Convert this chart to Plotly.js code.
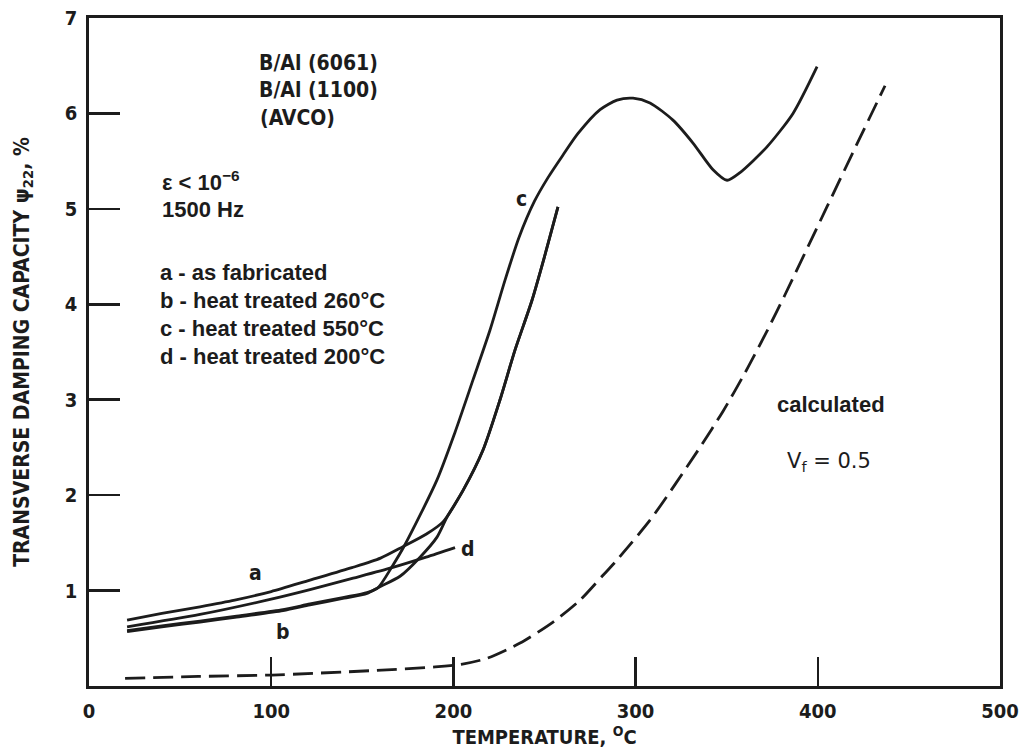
<!DOCTYPE html>
<html>
<head>
<meta charset="utf-8">
<script src="https://cdn.plot.ly/plotly-3.0.1.min.js"></script>
<style>html,body{margin:0;padding:0;background:#fff;}#chart{width:1034px;height:752px;}</style>
</head>
<body>
<div id="chart"></div>
<script>
// Curve a - as fabricated
const aTemp = [20.9, 40, 60.9, 80, 100, 121.3, 144.3, 160, 172.3, 185, 194.3, 205.3, 216.2, 225.6, 233.8, 243.1, 250.3, 257.4];
const aDamp = [0.69, 0.76, 0.83, 0.90, 0.99, 1.11, 1.24, 1.34, 1.46, 1.59, 1.72, 2.05, 2.47, 3.00, 3.52, 4.04, 4.52, 5.02];
// Curve b - heat treated 260°C
const bTemp = [20.9, 40, 60.9, 80, 106.5, 121.3, 140, 152.6, 158.6, 170.7, 181.7, 191, 196.5, 205.3, 216.2, 225.6, 233.8, 243.1, 250.3, 257.4];
const bDamp = [0.57, 0.62, 0.67, 0.72, 0.79, 0.85, 0.92, 0.97, 1.03, 1.15, 1.35, 1.56, 1.77, 2.05, 2.47, 3.00, 3.52, 4.04, 4.52, 5.02];
// Curve c - heat treated 550°C
const cTemp = [20.9, 40, 60.9, 80, 106.5, 121.3, 140, 152.6, 158.6, 166.3, 173.4, 191, 200.9, 210.8, 220.1, 228.3, 236, 244.5, 252, 260, 268.4, 280.5, 289.8, 298.6, 307.9, 320.5, 331.5, 342.5, 350.2, 357.3, 372.1, 386.4, 399.6];
const cDamp = [0.58, 0.63, 0.68, 0.73, 0.80, 0.86, 0.93, 0.98, 1.03, 1.25, 1.48, 2.16, 2.66, 3.21, 3.73, 4.25, 4.70, 5.08, 5.33, 5.56, 5.79, 6.04, 6.14, 6.16, 6.11, 5.93, 5.69, 5.41, 5.30, 5.38, 5.65, 6.00, 6.49];
// Curve d - heat treated 200°C
const dTemp = [20.9, 60.9, 100, 121.3, 145, 166.3, 185, 200.9];
const dDamp = [0.62, 0.75, 0.91, 1.01, 1.13, 1.24, 1.35, 1.45];
// Calculated, Vf = 0.5
const calcTemp = [19.8, 60, 100.4, 154, 190, 205, 218.4, 236.6, 254.7, 269.5, 282.1, 289.8, 308, 321.6, 335.3, 348, 360, 371.6, 382, 405, 421, 436.9];
const calcDamp = [0.08, 0.10, 0.115, 0.16, 0.20, 0.23, 0.29, 0.45, 0.67, 0.90, 1.16, 1.32, 1.74, 2.11, 2.50, 2.88, 3.28, 3.70, 4.10, 5.02, 5.66, 6.29];

const xTicks = [0, 100, 200, 300, 400, 500];
const yTicks = [1, 2, 3, 4, 5, 6, 7];

const INK = '#1c1c1c';
const NARROW = '"DejaVu Sans Condensed", "Liberation Sans Narrow", sans-serif';
const SANS = '"Liberation Sans", Arial, Helvetica, sans-serif';

function solid(x, y, name) {
  return {x: x, y: y, name: name, type: 'scatter', mode: 'lines',
    line: {color: INK, width: 2.8, shape: 'spline', smoothing: 0.7}, hoverinfo: 'x+y+name'};
}

const data = [
  solid(aTemp, aDamp, 'a - as fabricated'),
  solid(bTemp, bDamp, 'b - heat treated 260°C'),
  solid(cTemp, cDamp, 'c - heat treated 550°C'),
  solid(dTemp, dDamp, 'd - heat treated 200°C'),
  {x: calcTemp, y: calcDamp, name: 'calculated', type: 'scatter', mode: 'lines',
   line: {color: INK, width: 2.8, dash: '20px,8px', shape: 'spline', smoothing: 0.7}}
];

function note(x, y, text, opts) {
  return Object.assign({x: x, y: y, xref: 'x', yref: 'y', text: text, showarrow: false,
    xanchor: 'left', yanchor: 'middle',
    font: {family: SANS, size: 22, color: INK, weight: 'bold'}}, opts || {});
}
const narrowFont = {family: NARROW, size: 21, color: INK, weight: 'bold'};

const annotations = [
  note(92.2, 6.53, 'B/Al (6061)', {font: narrowFont}),
  note(92.2, 6.25, 'B/Al (1100)', {font: narrowFont}),
  note(92.7, 5.95, '(AVCO)', {font: narrowFont}),
  note(39.0, 5.29, 'ε < 10<sup>−6</sup>'),
  note(39.0, 4.99, '1500 Hz'),
  note(37.9, 4.33, 'a - as fabricated'),
  note(37.9, 4.04, 'b - heat treated 260°C'),
  note(37.9, 3.75, 'c - heat treated 550°C'),
  note(37.9, 3.45, 'd - heat treated 200°C'),
  note(376.5, 2.955, 'calculated'),
  note(382, 2.35, 'V<sub>f</sub> = 0.5', {font: {family: '"DejaVu Sans", sans-serif', size: 21, color: INK}}),
  note(91.6, 1.18, 'a', {xanchor: 'center', font: narrowFont}),
  note(106.5, 0.57, 'b', {xanchor: 'center', font: narrowFont}),
  note(237.6, 5.10, 'c', {xanchor: 'center', font: narrowFont}),
  note(208, 1.44, 'd', {xanchor: 'center', font: narrowFont})
];

const layout = {
  width: 1034, height: 752,
  margin: {l: 89, r: 34, t: 18, b: 66},
  paper_bgcolor: '#ffffff', plot_bgcolor: '#ffffff',
  showlegend: false,
  xaxis: {
    range: [0, 500], tickvals: xTicks, ticks: 'inside', ticklen: 29, tickwidth: 2.5, tickcolor: INK,
    showline: true, linecolor: INK, linewidth: 2.6, mirror: true, showgrid: false, zeroline: false,
    tickfont: {family: NARROW, size: 20, color: INK, weight: 'bold'}, ticklabelstandoff: 5,
    title: {text: 'TEMPERATURE, <sup>O</sup>C', standoff: 6, font: {family: NARROW, size: 20, color: INK, weight: 'bold'}}
  },
  yaxis: {
    range: [0, 7], tickvals: yTicks, ticks: 'inside', ticklen: 31, tickwidth: 2.5, tickcolor: INK,
    showline: true, linecolor: INK, linewidth: 2.6, mirror: true, showgrid: false, zeroline: false,
    tickfont: {family: NARROW, size: 20, color: INK, weight: 'bold'}, ticklabelstandoff: 5,
    title: {text: 'TRANSVERSE DAMPING CAPACITY ψ<sub>22</sub>, %', standoff: 30, font: {family: NARROW, size: 21, color: INK, weight: 'bold'}}
  },
  annotations: annotations
};

Plotly.newPlot('chart', data, layout, {staticPlot: true, displayModeBar: false});
</script>
</body>
</html>
